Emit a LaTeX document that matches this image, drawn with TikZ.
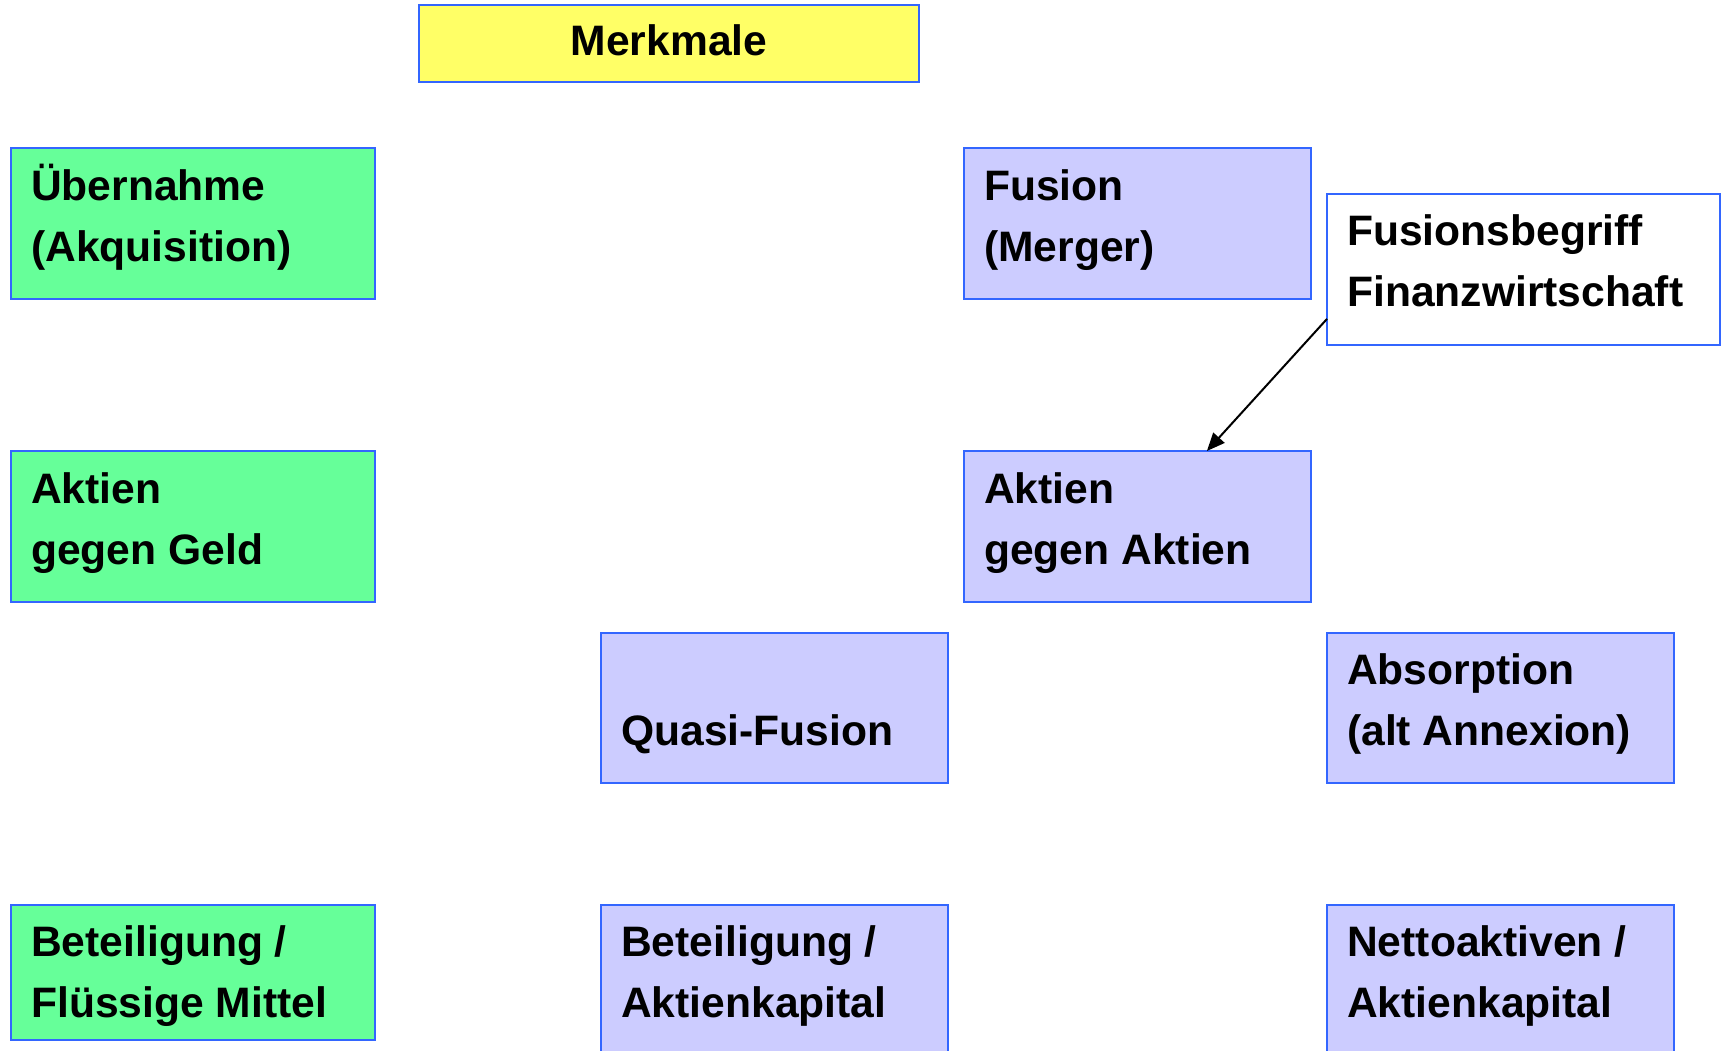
\documentclass[tikz,border=0pt]{standalone}
\usepackage{fontspec}
\setmainfont{Liberation Sans}
\usetikzlibrary{calc,arrows.meta}
\definecolor{frameblue}{HTML}{3366FF}
\definecolor{boxgreen}{HTML}{66FF99}
\definecolor{boxlilac}{HTML}{CCCCFF}
\definecolor{boxyellow}{HTML}{FFFF66}
\newcommand{\twolines}[2]{\begin{tabular}[t]{@{}l@{}}#1\\#2\end{tabular}}
\begin{document}
\begin{tikzpicture}[x=1pt,y=-1pt,
  box/.style={draw=frameblue,line width=2pt,rectangle,inner sep=0pt,outer sep=0pt,anchor=north west},
  greenbox/.style={box,fill=boxgreen,minimum width=363.5pt,minimum height=150.5pt},
  lilacbox/.style={box,fill=boxlilac,minimum width=347pt,minimum height=150.5pt},
  txt/.style={inner sep=0pt,anchor=base west,font=\bfseries\fontsize{42.6}{61}\selectfont},
  link/.style={line width=2pt,-{Triangle[length=18pt,width=15pt]}}]
\path[use as bounding box,clip] (0,0) rectangle (1725,1051);

% title
\node[box,fill=boxyellow,minimum width=500pt,minimum height=76.5pt] (mk) at (419,5.5) {};
\node[inner sep=0pt,anchor=base,font=\bfseries\fontsize{42.6}{61}\selectfont] (mkT) at ($(mk.north)+(0,50.5)$) {Merkmale};

% acquisition column
\node[greenbox] (ueb) at (11,148.5) {};
\node[txt] (uebT) at ($(ueb.north west)+(20,52)$) {\twolines{Übernahme}{(Akquisition)}};
\node[greenbox] (agg) at (11,451) {};
\node[txt] (aggT) at ($(agg.north west)+(20,52)$) {\twolines{Aktien}{gegen Geld}};
\node[greenbox,minimum height=135.5pt] (bfm) at (11,904.5) {};
\node[txt] (bfmT) at ($(bfm.north west)+(20,52)$) {\twolines{Beteiligung /}{Flüssige Mittel}};

% merger column
\node[lilacbox] (fus) at (964,148.5) {};
\node[txt] (fusT) at ($(fus.north west)+(20,52)$) {\twolines{Fusion}{(Merger)}};
\node[box,fill=white,minimum width=393pt,minimum height=150.5pt] (fb) at (1327,194) {};
\node[txt] (fbT) at ($(fb.north west)+(20,52)$) {\twolines{Fusionsbegriff}{Finanzwirtschaft}};
\node[lilacbox] (aga) at (964,451) {};
\node[txt] (agaT) at ($(aga.north west)+(20,52)$) {\twolines{Aktien}{gegen Aktien}};

% quasi-fusion and absorption
\node[lilacbox] (qf) at (601,632.5) {};
\node[txt] (qfT) at ($(qf.north west)+(20,113)$) {Quasi-Fusion};
\node[lilacbox] (abs) at (1327,632.5) {};
\node[txt] (absT) at ($(abs.north west)+(20,52)$) {\twolines{Absorption}{(alt Annexion)}};

\node[lilacbox,minimum height=170pt] (bak) at (601,904.5) {};
\node[txt] (bakT) at ($(bak.north west)+(20,52)$) {\twolines{Beteiligung /}{Aktienkapital}};
\node[lilacbox,minimum height=170pt] (nak) at (1327,904.5) {};
\node[txt] (nakT) at ($(nak.north west)+(20,52)$) {\twolines{Nettoaktiven /}{Aktienkapital}};

% pointer from the definition note
\coordinate (fbOut) at ($(fb.north west)!0.83!(fb.south west)$);
\coordinate (agaIn) at ($(aga.north west)!0.70!(aga.north east)$);
\draw[link] (fbOut) -- (agaIn);
\end{tikzpicture}
\end{document}
